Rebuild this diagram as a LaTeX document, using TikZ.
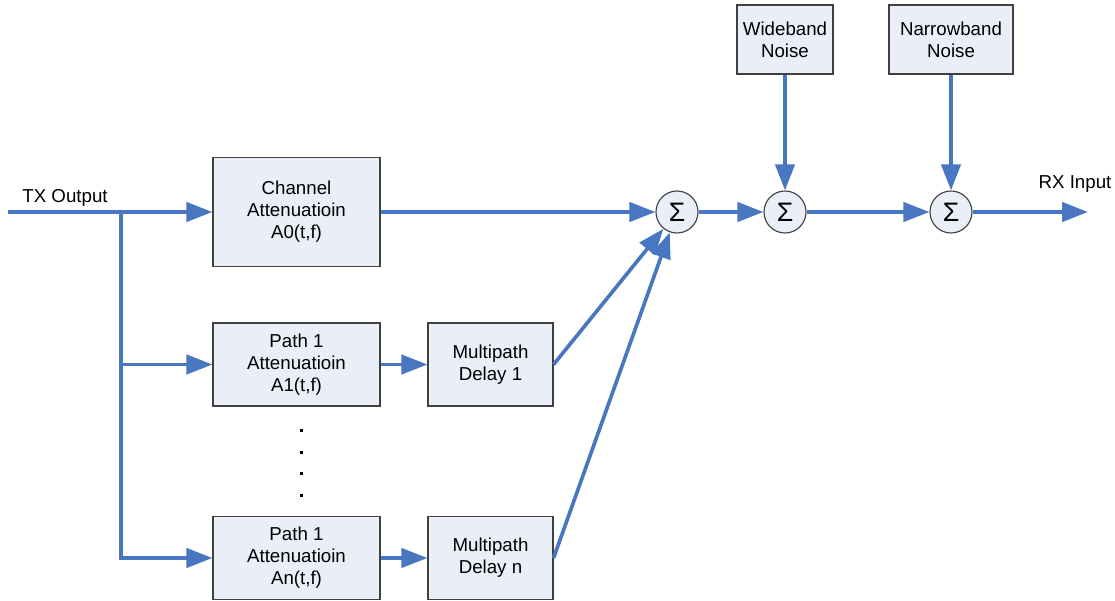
\documentclass[tikz,border=0pt]{standalone}
\usepackage{fontspec}
\setmainfont{Liberation Sans}
\usetikzlibrary{arrows.meta}
\definecolor{flowblue}{RGB}{72,118,192}
\definecolor{boxfill}{RGB}{233,238,247}
\definecolor{boxline}{RGB}{64,64,64}
\tikzset{
  block/.style={draw=boxline, line width=0.8pt, fill=boxfill, align=center, inner sep=0pt,
    font=\fontsize{13.3}{15.6}\selectfont},
  summer/.style={circle, draw=boxline, line width=0.8pt, fill=boxfill, minimum size=1.05cm, inner sep=0pt,
    font=\fontsize{19}{19}\selectfont},
  wire/.style={draw=flowblue, line width=2.6pt},
  flow/.style={wire, -{Triangle[length=0.65cm,width=0.48cm]}},
  lbl/.style={font=\fontsize{13.3}{15.6}\selectfont}
}

\begin{document}
\begin{tikzpicture}
			%%%%% START %%%%%
			\useasboundingbox (0,0) rectangle (27.875,15);
			
			\node[block, minimum width=4.175cm, minimum height=2.725cm] (chan) at (7.4125, 9.7) {Channel\\Attenuatioin\\A0(t,f)};
			\node[block, minimum width=4.175cm, minimum height=2.075cm] (path1) at (7.4125, 5.8875) {Path 1\\Attenuatioin\\A1(t,f)};
			\node[block, minimum width=4.175cm, minimum height=2.075cm] (pathn) at (7.4125, 1.05) {Path 1\\Attenuatioin\\An(t,f)};
			
			\node[block, minimum width=3.125cm, minimum height=2.075cm] (delay1) at (12.2625, 5.8875) {Multipath\\Delay 1};
			\node[block, minimum width=3.125cm, minimum height=2.075cm] (delayn) at (12.2625, 1.05) {Multipath\\Delay n};
			
			\node[summer] (sum1) at (16.925, 9.7) {Σ};
			\node[summer] (sum2) at (19.625, 9.7) {Σ};
			\node[summer] (sum3) at (23.775, 9.7) {Σ};
			
			\node[block, minimum width=2.4cm, minimum height=1.725cm] (wide) at (19.625, 14.0125) {Wideband\\Noise};
			\node[block, minimum width=3.1cm, minimum height=1.725cm] (narrow) at (23.775, 14.0125) {Narrowband\\Noise};
			
			% dots between the path rows
			\foreach \y in {4.2, 3.65, 3.125, 2.575}
				\fill (7.5, \y) rectangle ++(0.075, 0.075);
			
			% input and the branch to every path
			\coordinate (txin) at (0.2, 9.7);
			\coordinate (br) at (3.025, 9.7);
			\node[lbl] (txlbl) at (1.625, 10.05) {TX Output};
			\draw[flow] (txin) -- (chan.west);
			\draw[flow] (br) |- (pathn.west);
			\draw[flow] (br |- path1.west) -- (path1.west);
			
			\draw[flow] (path1.east) -- (delay1.west);
			\draw[flow] (pathn.east) -- (delayn.west);
			
			\draw[flow] (chan.east) -- (sum1.west);
			\draw[flow] (delay1.east) -- (sum1);
			\draw[flow] (delayn.east) -- (sum1);
			
			\draw[flow] (sum1.east) -- (sum2.west);
			\draw[flow] (sum2.east) -- (sum3.west);
			\draw[flow] (wide.south) -- (sum2.north);
			\draw[flow] (narrow.south) -- (sum3.north);
			
			% output
			\coordinate (rxout) at (27.2, 9.7);
			\node[lbl] (rxlbl) at (26.875, 10.4) {RX Input};
			\draw[flow] (sum3.east) -- (rxout);
			
			%%%%% END %%%%%
		\end{tikzpicture}
\end{document}
